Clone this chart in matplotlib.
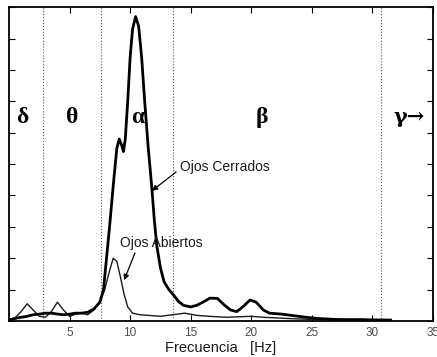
import matplotlib
matplotlib.use("Agg")
import matplotlib.pyplot as plt

# espectro con ojos cerrados (linea gruesa)
freq_cerrados = [0, 0.5, 1, 1.5, 2, 2.5, 3, 3.5, 4, 4.5, 5, 5.5, 6, 6.5, 7, 7.5, 7.8,
                 8.0, 8.3, 8.6, 8.9, 9.1, 9.3, 9.45, 9.6, 9.8, 10.0, 10.2, 10.45, 10.7,
                 10.95, 11.2, 11.5, 11.8, 12.0, 12.2, 12.5, 12.8, 13.2, 13.6, 14.0, 14.4,
                 15.0, 15.5, 16.0, 16.6, 17.2, 17.8, 18.3, 18.8, 19.3, 19.9, 20.4, 21.0,
                 21.5, 22.5, 23.5, 24.5, 25.5, 27, 29, 31.5]
pot_cerrados = [0.03, 0.08, 0.12, 0.15, 0.2, 0.22, 0.25, 0.25, 0.22, 0.2, 0.22, 0.25, 0.25,
                0.28, 0.38, 0.6, 1.0, 1.8, 3.0, 4.3, 5.5, 5.8, 5.6, 5.4, 5.8, 7.0, 8.4, 9.3,
                9.7, 9.4, 8.4, 7.0, 5.5, 4.2, 3.2, 2.4, 1.7, 1.25, 1.0, 0.82, 0.62, 0.5,
                0.45, 0.5, 0.6, 0.73, 0.72, 0.5, 0.35, 0.3, 0.45, 0.67, 0.6, 0.35, 0.25,
                0.22, 0.17, 0.12, 0.08, 0.05, 0.04, 0.03]

# espectro con ojos abiertos (linea fina)
freq_abiertos = [0, 0.5, 1.0, 1.5, 2.0, 2.5, 3.0, 3.5, 4.0, 4.5, 5.0, 5.5, 6.0, 6.5, 7.0,
                 7.5, 7.9, 8.3, 8.6, 8.9, 9.2, 9.5, 9.8, 10.2, 10.8, 11.5, 12.5, 13.5,
                 14.5, 15.5, 16.5, 18, 20, 21, 23, 25, 27, 29, 30, 31.5]
pot_abiertos = [0.05, 0.1, 0.3, 0.55, 0.35, 0.15, 0.12, 0.3, 0.6, 0.35, 0.15, 0.22, 0.25,
                0.2, 0.35, 0.6, 1.0, 1.6, 2.0, 1.9, 1.4, 0.85, 0.45, 0.25, 0.2, 0.18, 0.15,
                0.2, 0.25, 0.18, 0.15, 0.12, 0.15, 0.12, 0.08, 0.05, 0.03, 0.06, 0.04, 0.02]

# limites de bandas y etiquetas
limites = [2.8, 7.6, 13.5, 30.7]
bandas = ["δ", "θ", "α", "β", "γ→"]
pos_bandas = [1.1, 5.2, 10.6, 20.9, 33.0]
xticks = [5, 10, 15, 20, 25, 30, 35]

fig = plt.figure(figsize=(4.37, 3.57), dpi=100)
ax = fig.add_axes([0.0206, 0.1008, 0.9702, 0.879])

for x in limites:
    ax.axvline(x, color="0.35", linestyle=":", linewidth=0.8)

ax.plot(freq_abiertos, pot_abiertos, color="0.1", linewidth=1.0)
ax.plot(freq_cerrados, pot_cerrados, color="black", linewidth=2.0)

for lab, x in zip(bandas, pos_bandas):
    fam = "DejaVu Serif" if "→" in lab else "Liberation Serif"
    ax.text(x, 6.5, lab, ha="center", va="center",
            fontsize=15 if "→" in lab else 17,
            fontweight="bold", family=fam)

# etiquetas de las curvas con sus flechas
ax.text(14.1, 4.9, "Ojos Cerrados", fontsize=10, family="Liberation Sans",
        color="0.1", ha="left", va="center")
ax.annotate("", xy=(11.8, 4.15), xytext=(13.8, 4.75),
            arrowprops=dict(arrowstyle="-|>", color="black", lw=0.9,
                            mutation_scale=8, shrinkA=0, shrinkB=0))
ax.text(12.55, 2.48, "Ojos Abiertos", fontsize=10, family="Liberation Sans",
        color="0.1", ha="center", va="center")
ax.annotate("", xy=(9.5, 1.3), xytext=(10.4, 2.17),
            arrowprops=dict(arrowstyle="-|>", color="black", lw=0.9,
                            mutation_scale=8, shrinkA=0, shrinkB=0))

ax.set_xlim(0, 35)
ax.set_ylim(0, 10)
ax.set_xticks(xticks)
ax.set_yticks(range(0, 11))
ax.set_yticklabels([])
ax.tick_params(direction="in", top=True, right=True, length=4, width=0.8,
               labelsize=8.5, labelcolor="0.3", pad=4)
for lbl in ax.get_xticklabels():
    lbl.set_family("Liberation Sans")
for s in ax.spines.values():
    s.set_linewidth(1.3)

ax.set_xlabel("Frecuencia   [Hz]", fontsize=10.5, family="Liberation Sans",
              color="0.1", labelpad=2)

fig.savefig("out.png", dpi=100)
